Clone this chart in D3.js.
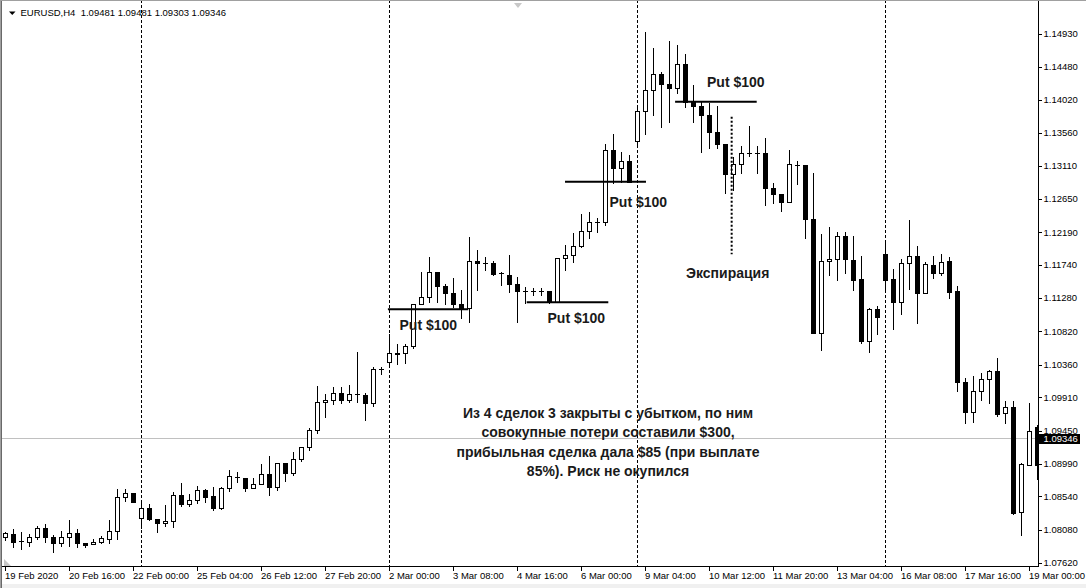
<!DOCTYPE html>
<html><head><meta charset="utf-8">
<script src="https://cdn.jsdelivr.net/npm/d3@7"></script>
<style>
html,body{margin:0;padding:0;background:#fff;overflow:hidden}
svg{display:block}
text{font-family:"Liberation Sans",Arial,sans-serif}
</style></head><body>
<svg id="c" width="1086" height="588"></svg>
<script>
// ---------- data ----------
const symbol = "EURUSD,H4";
const headerValues = ["1.09481", "1.09481", "1.09303", "1.09346"];
const opens = [1.07983,1.08021,1.07920,1.07914,1.07975,1.08099,1.07975,1.07900,1.07975,1.08030,
1.07892,1.07878,1.07906,1.07956,1.08066,1.08528,1.08583,1.08246,1.08384,1.08224,
1.08169,1.08205,1.08560,1.08431,1.08487,1.08625,1.08546,1.08376,1.08652,1.08808,
1.08790,1.08661,1.08708,1.08846,1.08666,1.08998,1.08860,1.09053,1.09219,1.09458,
1.09841,1.09868,1.09965,1.09868,1.09955,1.09942,1.09835,1.10297,1.10402,1.10508,
1.10518,1.10623,1.11195,1.11300,1.11637,1.11448,1.11347,1.11195,1.11140,1.11793,
1.11763,1.11770,1.11625,1.11600,1.11471,1.11385,1.11383,1.11385,1.11379,1.11223,
1.11839,1.11876,1.12001,1.12212,1.12334,1.12336,1.13327,1.13083,1.13175,1.13456,
1.13866,1.14156,1.14373,1.14235,1.14180,1.14511,1.14004,1.13935,1.13811,1.13580,
1.13406,1.12991,1.13134,1.13280,1.13282,1.13282,1.12798,1.12715,1.12604,1.13118,
1.13120,1.12369,1.10802,1.11789,1.11817,1.12139,1.11807,1.11540,1.10692,1.11126,
1.11890,1.11540,1.11231,1.11761,1.11862,1.11355,1.11738,1.11623,1.11793,1.11379,
1.10117,1.09711,1.10001,1.10158,1.10269,1.09689,1.09772,1.08329,1.08974,1.09495];
const highs = [1.08053,1.08086,1.08053,1.08021,1.08131,1.08159,1.08007,1.08066,1.08214,1.08086,
1.07900,1.07947,1.07993,1.08214,1.08638,1.08638,1.08583,1.08453,1.08431,1.08224,
1.08421,1.08605,1.08721,1.08573,1.08684,1.08638,1.08674,1.08674,1.08905,1.08878,
1.08790,1.08790,1.08984,1.09099,1.08998,1.08998,1.09150,1.09219,1.09481,1.10066,
1.09955,1.10048,1.10048,1.10080,1.10540,1.09965,1.10333,1.10333,1.10784,1.10646,
1.10646,1.11195,1.11645,1.11853,1.11637,1.11475,1.11554,1.11393,1.12129,1.11945,
1.11844,1.11797,1.11645,1.11876,1.11576,1.11430,1.11416,1.11416,1.11379,1.11831,
1.12014,1.12176,1.12439,1.12475,1.12383,1.13406,1.13548,1.13304,1.13258,1.13949,
1.14962,1.14741,1.14409,1.14833,1.14778,1.14650,1.14225,1.14004,1.13981,1.13935,
1.13406,1.13235,1.13382,1.13659,1.13382,1.13497,1.12875,1.12715,1.13327,1.13179,
1.13120,1.13005,1.12166,1.12267,1.12198,1.12198,1.12139,1.11862,1.11148,1.11171,
1.12038,1.11679,1.11817,1.12360,1.12001,1.11784,1.11862,1.11890,1.11853,1.11448,
1.10172,1.10204,1.10241,1.10287,1.10457,1.09859,1.09859,1.08998,1.09827,1.09527];
const lows = [1.07938,1.07845,1.07809,1.07855,1.07947,1.07914,1.07776,1.07855,1.07855,1.07837,
1.07837,1.07878,1.07892,1.07900,1.07947,1.08481,1.08467,1.08099,1.08214,1.08053,
1.08131,1.08122,1.08412,1.08412,1.08445,1.08467,1.08352,1.08362,1.08619,1.08743,
1.08619,1.08661,1.08708,1.08556,1.08629,1.08757,1.08840,1.09034,1.09181,1.09421,
1.09642,1.09813,1.09827,1.09849,1.09849,1.09596,1.09790,1.10232,1.10342,1.10370,
1.10380,1.10595,1.11195,1.11231,1.11231,1.11199,1.11153,1.11001,1.10954,1.11393,
1.11669,1.11600,1.11462,1.11369,1.10954,1.11209,1.11323,1.11323,1.11209,1.11223,
1.11669,1.11784,1.11991,1.12107,1.12190,1.12291,1.12867,1.12889,1.12889,1.13396,
1.13548,1.13811,1.13645,1.13718,1.14111,1.13925,1.13718,1.13304,1.13351,1.13351,
1.12737,1.12774,1.13005,1.13244,1.13005,1.12567,1.12591,1.12488,1.12604,1.12853,
1.12107,1.10802,1.10563,1.11600,1.11531,1.11623,1.11386,1.10656,1.10540,1.10784,
1.11393,1.10849,1.11061,1.11402,1.10941,1.11355,1.11554,1.11600,1.11278,1.10001,
1.09550,1.09573,1.09872,1.09835,1.09655,1.09550,1.08297,1.08007,1.08974,1.08777];
const closes = [1.08030,1.07914,1.07921,1.07975,1.08099,1.07975,1.07900,1.07975,1.08030,1.07900,
1.07869,1.07910,1.07961,1.08066,1.08528,1.08583,1.08467,1.08384,1.08224,1.08169,
1.08205,1.08555,1.08431,1.08487,1.08625,1.08536,1.08376,1.08656,1.08818,1.08810,
1.08661,1.08708,1.08846,1.08666,1.08998,1.08860,1.09053,1.09219,1.09458,1.09841,
1.09868,1.09965,1.09868,1.09951,1.09953,1.09835,1.10297,1.10301,1.10518,1.10526,
1.10623,1.11195,1.11300,1.11637,1.11448,1.11347,1.11199,1.11126,1.11793,1.11761,
1.11761,1.11609,1.11623,1.11471,1.11383,1.11383,1.11385,1.11383,1.11223,1.11831,
1.11876,1.12001,1.12212,1.12328,1.12336,1.13327,1.13083,1.13175,1.12889,1.13866,
1.14156,1.14373,1.14235,1.14180,1.14511,1.13994,1.13935,1.13807,1.13580,1.13406,
1.12991,1.13134,1.13282,1.13282,1.13280,1.12798,1.12715,1.12604,1.13134,1.13120,
1.12369,1.10802,1.11797,1.11817,1.12139,1.11817,1.11531,1.10692,1.11130,1.11024,
1.11531,1.11231,1.11761,1.11862,1.11355,1.11752,1.11623,1.11784,1.11369,1.10125,
1.09711,1.10001,1.10158,1.10269,1.09675,1.09772,1.08315,1.08984,1.09444,1.08974];
const dateLabels = ["19 Feb 2020","20 Feb 16:00","22 Feb 00:00","25 Feb 04:00","26 Feb 12:00",
"27 Feb 20:00","2 Mar 00:00","3 Mar 08:00","4 Mar 16:00","6 Mar 00:00","9 Mar 04:00",
"10 Mar 12:00","11 Mar 20:00","13 Mar 04:00","16 Mar 08:00","17 Mar 16:00","19 Mar 00:00"];
const dateLabelStep = 8;
const priceTicks = [1.14930,1.14480,1.14020,1.13560,1.13110,1.12650,1.12190,1.11740,1.11280,
1.10820,1.10360,1.09910,1.09450,1.08990,1.08540,1.08080,1.07620];
const weekSeparators = [17, 48, 79, 110];
const currentPrice = 1.09346;
const tradeLabels = ["Put $100", "Put $100", "Put $100", "Put $100"];
const tradePrices = [1.11126, 1.11223, 1.12889, 1.13994];
const tradeFrom = [47.8, 65.15, 69.94, 83.7];
const tradeTo = [57.85, 75.35, 80.06, 93.9];
const expirationLabel = "Экспирация";
const expirationBar = 90.77;
const expirationRange = [1.13787, 1.11886];
const noteLines = ["Из 4 сделок 3 закрыты с убытком, по ним",
"совокупные потери составили $300,",
"прибыльная сделка дала $85 (при выплате",
"85%). Риск не окупился"];

// ---------- layout ----------
const W = 1086, H = 588;
const plotRight = 1038, plotBottom = 566;
const svg = d3.select("#c");
const x = d3.scaleLinear().domain([0, opens.length - 1]).range([5.5, 5.5 + 8 * (opens.length - 1)]);
const y = d3.scaleLinear().domain([1.07620, 1.14930]).range([563, 34]);
const fs = 9.5;

svg.append("rect").attr("width", W).attr("height", H).attr("fill", "#fff");
svg.append("defs").append("clipPath").attr("id", "plot")
  .append("rect").attr("x", 2).attr("y", 1).attr("width", plotRight - 2).attr("height", plotBottom - 1);

const plot = svg.append("g").attr("clip-path", "url(#plot)");

// current price line
const cy = Math.round(y(currentPrice)) + 0.5;
plot.append("line").attr("x1", 0).attr("x2", plotRight).attr("y1", cy).attr("y2", cy)
  .attr("stroke", "#c0c0c0").attr("stroke-width", 1);

// week separators
plot.selectAll("line.sep").data(weekSeparators).join("line").attr("class", "sep")
  .attr("x1", d => x(d)).attr("x2", d => x(d)).attr("y1", 0).attr("y2", plotBottom)
  .attr("stroke", "#000").attr("stroke-width", 1).attr("stroke-dasharray", "3,2");

// candles
const idx = d3.range(opens.length);
const cg = plot.append("g").attr("shape-rendering", "crispEdges");
cg.selectAll("line.wick").data(idx).join("line").attr("class", "wick")
  .attr("x1", i => x(i)).attr("x2", i => x(i))
  .attr("y1", i => Math.round(y(highs[i]))).attr("y2", i => Math.round(y(lows[i])) + 1)
  .attr("stroke", "#000");
idx.forEach(i => {
  const a = Math.round(y(opens[i])), b = Math.round(y(closes[i]));
  const top = Math.min(a, b), bot = Math.max(a, b);
  const bull = closes[i] >= opens[i];
  if (bot - top < 1) {
    cg.append("line").attr("x1", x(i) - 2.5).attr("x2", x(i) + 2.5)
      .attr("y1", top + 0.5).attr("y2", top + 0.5).attr("stroke", "#000");
  } else {
    cg.append("rect").attr("x", x(i) - 2).attr("y", top + 0.5)
      .attr("width", 4).attr("height", bot - top)
      .attr("fill", bull ? "#fff" : "#000").attr("stroke", "#000");
  }
});

// trade lines
tradePrices.forEach((p, k) => {
  plot.append("line").attr("x1", x(tradeFrom[k])).attr("x2", x(tradeTo[k]))
    .attr("y1", y(p)).attr("y2", y(p)).attr("stroke", "#000").attr("stroke-width", 2);
});
// expiration dotted line
plot.append("line").attr("x1", x(expirationBar)).attr("x2", x(expirationBar))
  .attr("y1", y(expirationRange[0])).attr("y2", y(expirationRange[1]))
  .attr("stroke", "#000").attr("stroke-width", 2).attr("stroke-dasharray", "2,2");

// annotation texts
const tf = "bold 14px 'Liberation Sans', Arial, sans-serif";
const tradeTextPos = [[399.5, 329.5], [547.5, 323], [609.5, 206.5], [707, 87]];
tradeLabels.forEach((t, k) => {
  svg.append("text").attr("x", tradeTextPos[k][0]).attr("y", tradeTextPos[k][1])
    .style("font", tf).attr("fill", "#1a1a1a").text(t);
});
svg.append("text").attr("x", 686).attr("y", 277.5).style("font", tf).attr("fill", "#1a1a1a").text(expirationLabel);
noteLines.forEach((t, k) => {
  svg.append("text").attr("x", 608).attr("y", 418 + k * 19.3).attr("text-anchor", "middle")
    .style("font", tf).attr("fill", "#1a1a1a").text(t);
});

// header
svg.append("path").attr("d", "M9,11.5 L15.5,11.5 L12.25,15 Z").attr("fill", "#000");
svg.append("text").attr("x", 20.5).attr("y", 16).attr("font-size", fs).attr("fill", "#000")
  .style("white-space", "pre").text(symbol + "  " + headerValues.join(" "));

// chart-shift markers
svg.append("path").attr("d", "M514,3 L522,3 L518,8 Z").attr("fill", "#c8c8c8");
svg.append("path").attr("d", "M4,559 L4,566 L11,566 Z").attr("fill", "#c8c8c8");

// right price axis
const ax = svg.append("g").attr("shape-rendering", "crispEdges");
ax.append("line").attr("x1", plotRight + 0.5).attr("x2", plotRight + 0.5).attr("y1", 0).attr("y2", plotBottom + 1).attr("stroke", "#000");
ax.selectAll("line.pt").data(priceTicks).join("line").attr("class", "pt")
  .attr("x1", plotRight + 1).attr("x2", plotRight + 4)
  .attr("y1", d => Math.round(y(d)) + 0.5).attr("y2", d => Math.round(y(d)) + 0.5).attr("stroke", "#000");
svg.selectAll("text.pl").data(priceTicks).join("text").attr("class", "pl")
  .attr("x", plotRight + 5.5).attr("y", d => y(d)).attr("dy", "0.35em")
  .attr("font-size", fs).attr("fill", "#000").text(d => d.toFixed(5));
// current price tag (covers the neighbouring tick label, as in the terminal)
svg.append("rect").attr("x", plotRight + 1).attr("y", cy - 4.5).attr("width", 41).attr("height", 10).attr("fill", "#000");
svg.append("text").attr("x", plotRight + 5.5).attr("y", cy).attr("dy", "0.35em")
  .attr("font-size", fs).attr("fill", "#fff").text(currentPrice.toFixed(5));

// bottom time axis
ax.append("line").attr("x1", 0).attr("x2", plotRight + 1).attr("y1", plotBottom + 0.5).attr("y2", plotBottom + 0.5).attr("stroke", "#000");
ax.selectAll("line.tt").data(dateLabels).join("line").attr("class", "tt")
  .attr("x1", (d, k) => x(k * dateLabelStep)).attr("x2", (d, k) => x(k * dateLabelStep))
  .attr("y1", plotBottom + 1).attr("y2", plotBottom + 5).attr("stroke", "#000");
svg.selectAll("text.tl").data(dateLabels).join("text").attr("class", "tl")
  .attr("x", (d, k) => x(k * dateLabelStep) - 0.5).attr("y", 575.5).attr("dy", "0.35em")
  .attr("font-size", fs).attr("fill", "#000").text(d => d);

// window frame
svg.append("rect").attr("x", 0).attr("y", 0).attr("width", 1).attr("height", H).attr("fill", "#a0a0a0");
svg.append("rect").attr("x", 1).attr("y", 0).attr("width", 1).attr("height", H).attr("fill", "#696969");
svg.append("rect").attr("x", 0).attr("y", 0).attr("width", W).attr("height", 1).attr("fill", "#a0a0a0");
svg.append("rect").attr("x", 2).attr("y", 584).attr("width", W).attr("height", 4).attr("fill", "#f0f0f0");
</script></body></html>
